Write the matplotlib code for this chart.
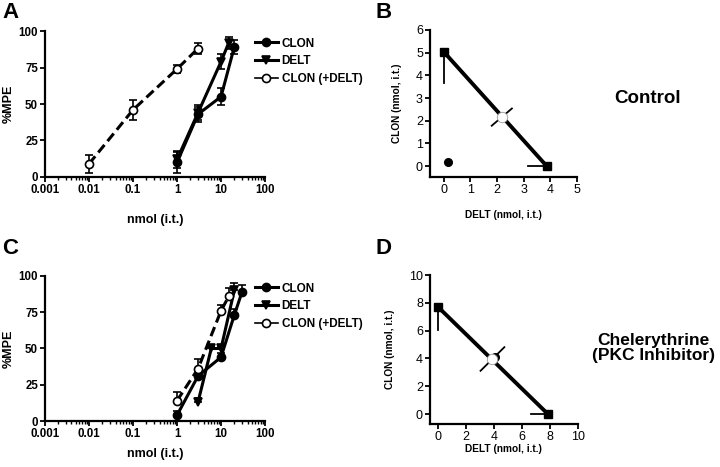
import numpy as np
import matplotlib
matplotlib.use("Agg")
import matplotlib.pyplot as plt
from matplotlib.lines import Line2D
from matplotlib.ticker import LogLocator, NullFormatter

plt.rcParams['font.family'] = ['Liberation Sans', 'DejaVu Sans']
plt.rcParams['font.weight'] = 'bold'

# ---------------- data ----------------
# Panel A (control dose-response)
a_clon_x = [1, 3, 10, 20]
a_clon_y = [10, 43, 55, 89]
a_clon_e = [7, 5, 6, 5]
a_delt_x = [1, 3, 10, 15]
a_delt_y = [12, 44, 79, 92]
a_delt_e = [6, 5, 5, 4]
a_mix_x = [0.01, 0.1, 1, 3]
a_mix_y = [9, 46, 74, 88]
a_mix_e = [6, 7, 3, 4]

# Panel C (chelerythrine dose-response)
c_clon_x = [1, 3, 10, 20, 30]
c_clon_y = [4, 31, 44, 73, 89]
c_clon_e = [3, 4, 3, 4, 5]
c_delt_x = [3, 6, 10, 20]
c_delt_y = [13, 50, 50, 90]
c_delt_e = [3, 2, 2, 5]
c_mix_x = [1, 3, 10, 15]
c_mix_y = [14, 36, 76, 86]
c_mix_e = [6, 7, 4, 6]

# Panel B isobologram (control)
b_sq_x = [0, 3.87]
b_sq_y = [5.03, 0]
b_sq_err = [1.37, 0.71]      # vertical (top) / horizontal (bottom) error
b_exp_x, b_exp_y, b_exp_e = 2.18, 2.16, 0.38
b_obs_x, b_obs_y = 0.17, 0.17

# Panel D isobologram (chelerythrine)
d_sq_x = [0, 7.86]
d_sq_y = [7.72, 0]
d_sq_err = [1.68, 1.22]
d_exp_x, d_exp_y, d_exp_e = 3.9, 3.96, 0.85
d_obs_x, d_obs_y = 4.07, 4.12

dose_ticks = [0.001, 0.01, 0.1, 1, 10, 100]
dose_labels = ['0.001', '0.01', '0.1', '1', '10', '100']
mpe_ticks = [0, 25, 50, 75, 100]

LW = 2.2
TICK_FS = 8.3
LAB_FS = 8.0

fig = plt.figure(figsize=(7.2, 4.67), dpi=100)
axA = fig.add_axes([0.0625, 0.621, 0.3056, 0.3126])
axC = fig.add_axes([0.0625, 0.0985, 0.3056, 0.3105])
axB = fig.add_axes([0.597, 0.621, 0.204, 0.3148])
axD = fig.add_axes([0.597, 0.092, 0.2056, 0.319])


def style(ax, fs, weight):
    for s in ['top', 'right']:
        ax.spines[s].set_visible(False)
    for s in ['left', 'bottom']:
        ax.spines[s].set_linewidth(1.6)
    ax.tick_params(which='major', direction='out', length=3.5, width=1.3,
                   labelsize=fs, pad=1.5)
    ax.tick_params(which='minor', direction='out', length=2.2, width=1.0)
    for lab in ax.get_xticklabels() + ax.get_yticklabels():
        lab.set_fontweight(weight)


def dose_panel(ax, clon, delt, mix, up_only, xpad):
    ms = dict(markersize=5.8, markeredgecolor='black', markeredgewidth=1.2)
    for (x, y, e), mk, fc, ls in [(clon, 'o', 'black', '-'),
                                  (delt, 'v', 'black', '-'),
                                  (mix, 'o', 'white', (0, (3.2, 1.6)))]:
        err = [np.zeros(len(e)), e] if up_only else e
        ax.errorbar(x, y, yerr=err, fmt='none', ecolor='black',
                    elinewidth=1.2, capsize=3, capthick=1.2, zorder=2)
        ax.plot(x, y, linestyle=ls, color='black', lw=LW, marker=mk,
                markerfacecolor=fc, zorder=3, **ms)
    ax.set_xscale('log')
    ax.set_xlim(0.001, 100)
    ax.set_ylim(0, 100)
    ax.set_xticks(dose_ticks)
    ax.set_xticklabels(dose_labels)
    ax.xaxis.set_minor_locator(LogLocator(base=10, subs=np.arange(2, 10)))
    ax.xaxis.set_minor_formatter(NullFormatter())
    ax.set_yticks(mpe_ticks)
    ax.set_xlabel('nmol (i.t.)', fontsize=9, fontweight='bold', labelpad=xpad)
    ax.set_ylabel('%MPE', fontsize=9, fontweight='bold', labelpad=3)
    style(ax, TICK_FS, 'bold')
    handles = [
        Line2D([], [], color='black', lw=LW, marker='o', markerfacecolor='black', **ms),
        Line2D([], [], color='black', lw=LW, marker='v', markerfacecolor='black', **ms),
        Line2D([], [], color='black', lw=1.2, marker='o', markerfacecolor='white', **ms),
    ]
    ax.legend(handles, ['CLON', 'DELT', 'CLON (+DELT)'], loc='upper left',
              bbox_to_anchor=(0.955, 0.955), frameon=False, handlelength=1.9,
              handletextpad=0.35, labelspacing=0.5, borderaxespad=0, borderpad=0,
              prop=dict(size=LAB_FS + 0.5, weight='bold'))


def isobole(ax, sq_x, sq_y, sq_err, ex, ey, ee, ox, oy, xpad):
    ax.plot(sq_x, sq_y, color='black', lw=LW + 0.6, marker='s', markersize=5.5,
            markerfacecolor='black', markeredgecolor='black', zorder=3)
    ax.plot([sq_x[0], sq_x[0]], [sq_y[0], sq_y[0] - sq_err[0]], color='black', lw=1.3)
    ax.plot([sq_x[1], sq_x[1] - sq_err[1]], [sq_y[1], sq_y[1]], color='black', lw=1.3)
    ax.plot([ex - ee, ex + ee], [ey - ee, ey + ee], color='black', lw=1.3, zorder=4)
    ax.plot(ox, oy, 'o', color='black', markersize=5.5, zorder=4)
    ax.plot(ex, ey, 'o', markerfacecolor='white', markeredgecolor='#999999',
            markeredgewidth=0.6, markersize=7.5, zorder=5)
    ax.set_ylabel('CLON (nmol, i.t.)', fontsize=7.3, fontweight='bold', labelpad=10)
    ax.set_xlabel('DELT (nmol, i.t.)', fontsize=7.3, fontweight='bold', labelpad=xpad)
    style(ax, 9, 'normal')


dose_panel(axA, (a_clon_x, a_clon_y, a_clon_e), (a_delt_x, a_delt_y, a_delt_e),
           (a_mix_x, a_mix_y, a_mix_e), up_only=False, xpad=13)
dose_panel(axC, (c_clon_x, c_clon_y, c_clon_e), (c_delt_x, c_delt_y, c_delt_e),
           (c_mix_x, c_mix_y, c_mix_e), up_only=True, xpad=6)

isobole(axB, b_sq_x, b_sq_y, b_sq_err, b_exp_x, b_exp_y, b_exp_e, b_obs_x, b_obs_y, 10)
axB.set_xlim(-0.53, 5)
axB.set_ylim(-0.48, 6)
axB.set_xticks(range(0, 6))
axB.set_yticks(range(0, 7))

isobole(axD, d_sq_x, d_sq_y, d_sq_err, d_exp_x, d_exp_y, d_exp_e, d_obs_x, d_obs_y, 1)
axD.set_xlim(-0.57, 10)
axD.set_ylim(-0.72, 10)
axD.set_xticks(range(0, 11, 2))
axD.set_yticks(range(0, 11, 2))

for ax in [axB, axD]:
    for lab in ax.get_xticklabels() + ax.get_yticklabels():
        lab.set_fontweight('normal')

# panel letters and condition labels
for lbl, x, y in [('A', 0.003, 0.995), ('B', 0.522, 0.995),
                  ('C', 0.003, 0.49), ('D', 0.522, 0.49)]:
    fig.text(x, y, lbl, fontsize=16, fontweight='bold', va='top', ha='left')
fig.text(0.899, 0.79, 'Control', fontsize=13.5, fontweight='bold', ha='center', va='center')
fig.text(0.907, 0.255, 'Chelerythrine\n(PKC Inhibitor)', fontsize=12.5, fontweight='bold',
         ha='center', va='center', linespacing=0.95)

fig.savefig('out.png', dpi=100)
